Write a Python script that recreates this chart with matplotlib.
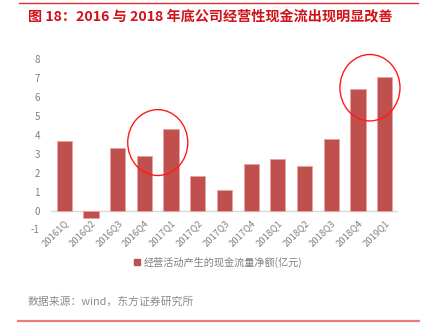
import matplotlib.pyplot as plt
from matplotlib.patches import Ellipse, Patch
from matplotlib.lines import Line2D

plt.rcParams['font.family'] = ['Noto Sans CJK SC', 'DejaVu Sans']

# data
quarters = ['20161Q', '2016Q2', '2016Q3', '2016Q4', '2017Q1', '2017Q2', '2017Q3',
            '2017Q4', '2018Q1', '2018Q2', '2018Q3', '2018Q4', '2019Q1']
cash_flow = [3.67, -0.38, 3.27, 2.85, 4.3, 1.8, 1.08, 2.46, 2.72, 2.33, 3.77, 6.38, 7.05]
y_ticks = [-1, 0, 1, 2, 3, 4, 5, 6, 7, 8]

title = '图 18：2016 与 2018 年底公司经营性现金流出现明显改善'
series_name = '经营活动产生的现金流量净额(亿元)'
source = '数据来源：wind，东方证券研究所'

bar_color = '#C0504D'
gray = '#808080'

fig = plt.figure(figsize=(4.34, 3.34), dpi=100)
ax = fig.add_axes([0.1175, 0.3129, 0.7995, 0.5114])

x = list(range(len(quarters)))
ax.bar(x, cash_flow, width=0.57, color=bar_color, edgecolor='#E9A3A1', linewidth=0.7, zorder=2)
ax.axhline(0, color='#D9D9D9', linewidth=1.0, zorder=1)

ax.set_xlim(-0.5, len(quarters) - 0.5)
ax.set_ylim(-1, 8)
ax.set_yticks(y_ticks)
ax.set_yticklabels([str(v) for v in y_ticks], color=gray, fontsize=7)
ax.set_xticks(x)
ax.set_xticklabels(quarters, rotation=45, ha='right', va='top', rotation_mode='anchor',
                   color=gray, fontsize=6.8)
ax.tick_params(axis='x', length=0, pad=-8)
ax.tick_params(axis='y', length=0, pad=8)
for s in ax.spines.values():
    s.set_visible(False)

# highlight circles
ax.add_patch(Ellipse((3.5, 3.58), 2.25, 3.47, fill=False, edgecolor='#FF1A1A', linewidth=1.0,
                     zorder=3, clip_on=False))
ax.add_patch(Ellipse((11.45, 6.47), 2.25, 3.5, fill=False, edgecolor='#FF1A1A', linewidth=1.0,
                     zorder=3, clip_on=False))

# legend
handle = Patch(facecolor=bar_color, edgecolor=bar_color)
fig.legend([handle], [series_name], loc='center', bbox_to_anchor=(218 / 434, 1 - 262 / 334),
           frameon=False, fontsize=7.3, labelcolor=gray, handlelength=0.6, handleheight=0.6,
           handletextpad=0.3)

# title, source and frame lines
fig.text(28 / 434, 1 - 16 / 334, title, color='#D2121B', fontsize=10.2, fontweight='bold',
         va='center', ha='left')
fig.text(28 / 434, 1 - 302 / 334, source, color='#8C8C8C', fontsize=7.8, va='center', ha='left')
fig.add_artist(Line2D([19 / 434, 418 / 434], [1 - 3 / 334, 1 - 3 / 334], color='#E03030',
                      linewidth=1.0, transform=fig.transFigure))
fig.add_artist(Line2D([18 / 434, 419 / 434], [1 - 321 / 334, 1 - 321 / 334], color='#EE7B7B',
                      linewidth=1.6, transform=fig.transFigure))

fig.savefig('out.png', dpi=100)
